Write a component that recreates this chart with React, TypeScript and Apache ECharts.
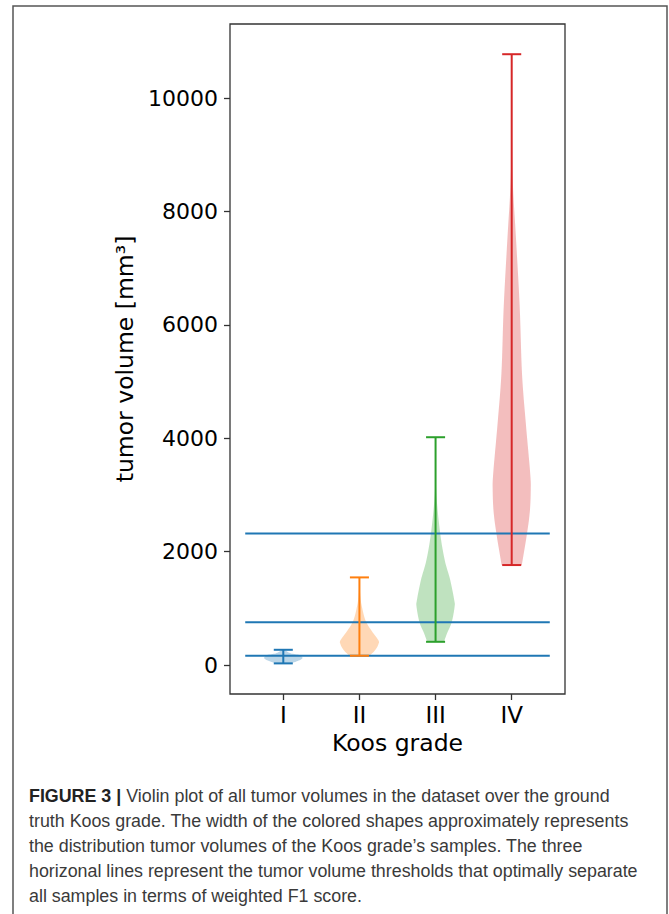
import React, { useEffect, useRef } from "react";
import * as echarts from "echarts";

// ---- data ----
const categories = ["I", "II", "III", "IV"];
const positions = [1, 2, 3, 4];
const colors = ["#1f77b4", "#ff7f0e", "#2ca02c", "#d62728"];
const yTicks = [0, 2000, 4000, 6000, 8000, 10000];
const thresholds = [165, 755, 2320];

// violin outlines: tumor volume (mm^3) and relative width (1 = widest)
const violinIValues = [30, 60, 118, 176, 206, 253, 270];
const violinIWidths = [0.35, 0.66, 1.0, 0.85, 0.4, 0.13, 0.03];
const violinIIValues = [165, 265, 370, 441, 618, 794, 1030, 1150, 1300, 1547];
const violinIIWidths = [0.53, 0.83, 1.0, 0.99, 0.61, 0.31, 0.13, 0.07, 0.03, 0.01];
const violinIIIValues = [411, 565, 760, 1030, 1147, 1500, 1853, 2330, 2970, 3400, 4020];
const violinIIIWidths = [0.44, 0.61, 0.85, 1.0, 0.98, 0.77, 0.48, 0.24, 0.05, 0.02, 0.005];
const violinIVValues = [1765, 2290, 2700, 3090, 3390, 4270, 5150, 6320, 7500, 8500, 9500, 10777];
const violinIVWidths = [0.53, 0.79, 0.95, 1.0, 0.97, 0.74, 0.54, 0.42, 0.23, 0.06, 0.01, 0.0];

const violinValues = [violinIValues, violinIIValues, violinIIIValues, violinIVValues];
const violinWidths = [violinIWidths, violinIIWidths, violinIIIWidths, violinIVWidths];

const captionBold = "FIGURE 3 |";
const captionLines = [
  " Violin plot of all tumor volumes in the dataset over the ground",
  "truth Koos grade. The width of the colored shapes approximately represents",
  "the distribution tumor volumes of the Koos grade\u2019s samples. The three",
  "horizonal lines represent the tumor volume thresholds that optimally separate",
  "all samples in terms of weighted F1 score.",
];

// ---- drawing helpers ----
function cr(p0: number, p1: number, p2: number, p3: number, t: number) {
  const t2 = t * t;
  const t3 = t2 * t;
  return 0.5 * (2 * p1 + (-p0 + p2) * t + (2 * p0 - 5 * p1 + 4 * p2 - p3) * t2 + (-p0 + 3 * p1 - 3 * p2 + p3) * t3);
}
function smoothOutline(ys: number[], ws: number[], steps: number) {
  const out: number[][] = [];
  const n = ys.length;
  for (let i = 0; i < n - 1; i++) {
    const i0 = i > 0 ? i - 1 : i;
    const i3 = i + 2 < n ? i + 2 : i + 1;
    for (let s = 0; s < steps; s++) {
      const t = s / steps;
      out.push([
        cr(ys[i0], ys[i], ys[i + 1], ys[i3], t),
        Math.max(0, cr(ws[i0], ws[i], ws[i + 1], ws[i3], t)),
      ]);
    }
  }
  out.push([ys[n - 1], ws[n - 1]]);
  return out;
}

const HALF_WIDTH = 0.25;
const CAP_HALF = 0.125;

export default function App() {
  const ref = useRef<HTMLDivElement>(null);
  useEffect(() => {
    if (!ref.current) return;
    const chart = echarts.init(ref.current, null, { renderer: "svg" });
    const axisFont = "DejaVu Sans";
    const seriesData = positions.map((p, i) => [p, i]);

    const option: any = {
      animation: false,
      grid: {
        left: 230,
        top: 24,
        width: 335,
        height: 670,
        show: true,
        borderColor: "#333",
        borderWidth: 1.3,
        backgroundColor: "transparent",
      },
      xAxis: {
        type: "value",
        min: 0.3,
        max: 4.7,
        axisLine: { show: false, onZero: false },
        splitLine: { show: false },
        axisTick: { show: true, customValues: positions, length: 6, lineStyle: { color: "#333", width: 1.3 } },
        axisLabel: {
          customValues: positions,
          formatter: (v: number) => categories[positions.indexOf(v)] ?? "",
          fontSize: 23,
          fontFamily: axisFont,
          color: "#000",
          margin: 9,
        },
        name: "Koos grade",
        nameLocation: "middle",
        nameGap: 33,
        nameTextStyle: { fontSize: 23.5, fontFamily: axisFont, color: "#000" },
      },
      yAxis: {
        type: "value",
        min: -510,
        max: 11310,
        axisLine: { show: false, onZero: false },
        splitLine: { show: false },
        axisTick: { show: true, customValues: yTicks, length: 6, lineStyle: { color: "#333", width: 1.3 } },
        axisLabel: {
          customValues: yTicks,
          formatter: (v: number) => String(v),
          fontSize: 22,
          fontFamily: axisFont,
          color: "#000",
          margin: 12,
        },
        name: "tumor volume [mm\u00b3]",
        nameLocation: "middle",
        nameGap: 73,
        nameTextStyle: { fontSize: 23.5, fontFamily: axisFont, color: "#000" },
      },
      series: [
        {
          type: "custom",
          name: "bodies",
          z: 2,
          data: seriesData,
          renderItem: (params: any, api: any) => {
            const pos = api.value(0);
            const k = api.value(1);
            const pts = smoothOutline(violinValues[k], violinWidths[k], 8);
            const right = pts.map((p) => api.coord([pos + p[1] * HALF_WIDTH, p[0]]));
            const left = pts.map((p) => api.coord([pos - p[1] * HALF_WIDTH, p[0]])).reverse();
            return {
              type: "polygon",
              shape: { points: right.concat(left) },
              style: { fill: colors[k], opacity: 0.3, stroke: "none" },
            };
          },
        },
        ...thresholds.map((t) => ({
          type: "line",
          z: 3,
          symbol: "none",
          silent: true,
          data: [
            [0.5, t],
            [4.5, t],
          ],
          lineStyle: { color: colors[0], width: 2 },
        })),
        {
          type: "custom",
          name: "lines",
          z: 4,
          data: seriesData,
          renderItem: (params: any, api: any) => {
            const pos = api.value(0);
            const k = api.value(1);
            const vals = violinValues[k];
            const lo = vals[0];
            const hi = vals[vals.length - 1];
            const a = api.coord([pos, lo]);
            const b = api.coord([pos, hi]);
            const cl0 = api.coord([pos - CAP_HALF, lo]);
            const cl1 = api.coord([pos + CAP_HALF, lo]);
            const ch0 = api.coord([pos - CAP_HALF, hi]);
            const ch1 = api.coord([pos + CAP_HALF, hi]);
            const st = { stroke: colors[k], lineWidth: 2 };
            return {
              type: "group",
              children: [
                { type: "line", shape: { x1: a[0], y1: a[1], x2: b[0], y2: b[1] }, style: st },
                { type: "line", shape: { x1: cl0[0], y1: cl0[1], x2: cl1[0], y2: cl1[1] }, style: st },
                { type: "line", shape: { x1: ch0[0], y1: ch0[1], x2: ch1[0], y2: ch1[1] }, style: st },
              ],
            };
          },
        },
      ],
      graphic: [
        {
          type: "rect",
          shape: { x: 13, y: 6, width: 654, height: 1000 },
          style: { fill: "none", stroke: "#555", lineWidth: 1.5 },
          silent: true,
        },
        {
          type: "text",
          x: 29,
          y: 783,
          scaleX: 0.965,
          style: {
            text: "{b|" + captionBold + "}" + captionLines.map((l) => "{n|" + l + "}").join("\n"),
            fontFamily: "Liberation Sans",
            fontSize: 18.5,
            lineHeight: 25,
            fill: "#3a3a3a",
            rich: {
              b: { fontFamily: "Liberation Sans", fontSize: 18.5, fontWeight: "bold", fill: "#222", lineHeight: 25 },
              n: { fontFamily: "Liberation Sans", fontSize: 18.5, fill: "#3a3a3a", lineHeight: 25 },
            },
          },
        },
      ],
    };
    chart.setOption(option);
    return () => chart.dispose();
  }, []);

  return (
    <div
      ref={ref}
      style={{ position: "absolute", left: 0, top: 0, width: 669, height: 914, background: "#fff" }}
    />
  );
}
